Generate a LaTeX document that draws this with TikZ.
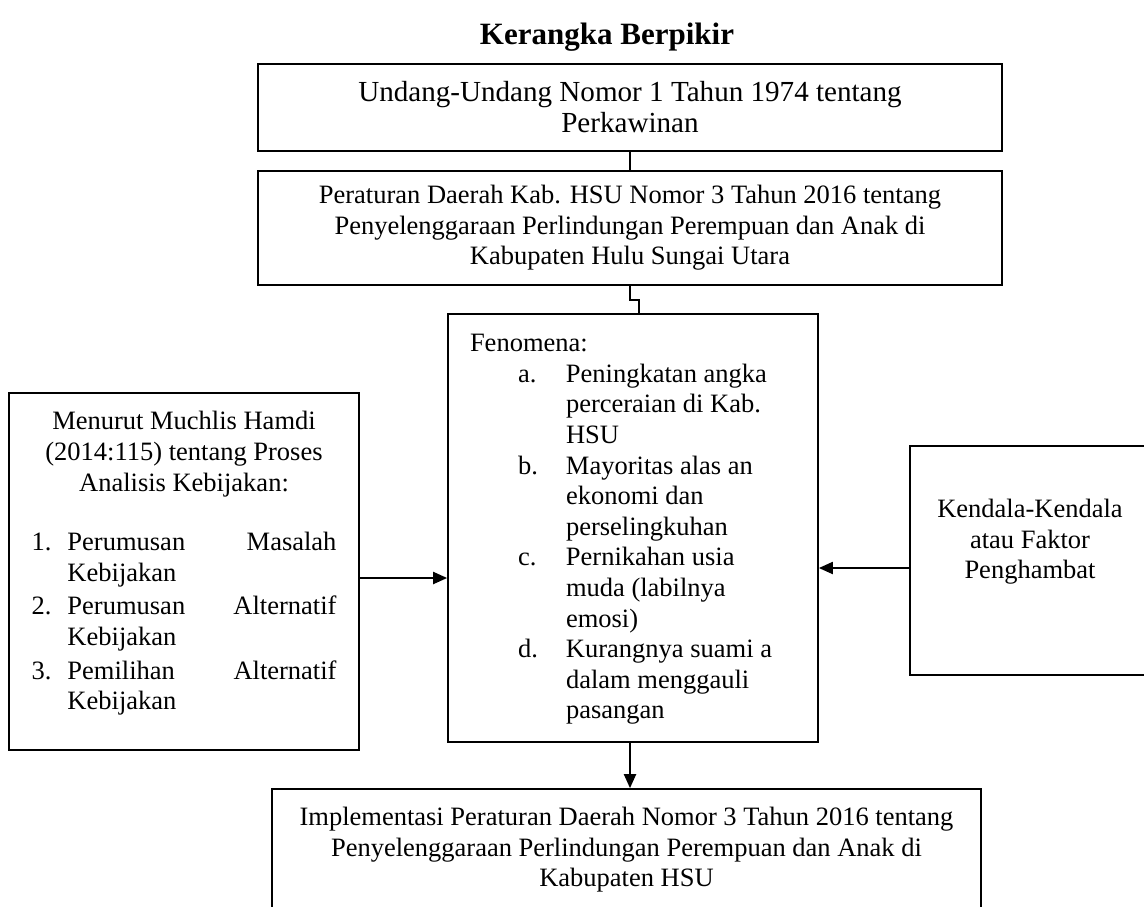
\documentclass[tikz,border=0pt]{standalone}
\usepackage{fontspec}
\setmainfont{Liberation Serif}
\usetikzlibrary{arrows.meta,calc}
\tikzset{
  box/.style={draw, line width=1.7pt, inner sep=0pt, align=center},
  arr/.style={line width=2pt, -{Triangle[length=14pt,width=12pt]}},
  conn/.style={line width=1.7pt},
  txt/.style={font=\fontsize{26.5}{30.6}\selectfont},
}
\begin{document}
\begin{tikzpicture}[x=1pt,y=-1pt]
\useasboundingbox (0,0) rectangle (1144,906);
\fill[white] (0,0) rectangle (1144,906);
\clip (0,0) rectangle (1144,906);

\node[font=\fontsize{31}{36}\selectfont\bfseries] (title) at (607,37) {Kerangka Berpikir};

\node[box, font=\fontsize{29.1}{31}\selectfont, minimum width=744pt, minimum height=87pt] (B1) at (630,107.5)
  {Undang-Undang Nomor 1 Tahun 1974 tentang\\Perkawinan};

\node[box, txt, minimum width=744pt, minimum height=114pt] (B2) at (630,228)
  {Peraturan Daerah Kab. HSU Nomor 3 Tahun 2016 tentang\\Penyelenggaraan Perlindungan Perempuan dan Anak di\\Kabupaten Hulu Sungai Utara};

\node[box, txt, minimum width=370pt, minimum height=428pt] (Fen) at (633,528)
  {\parbox{326pt}{\vspace*{3pt}\raggedright Fenomena:\\
   \hspace*{48pt}\makebox[48pt][l]{a.}Peningkatan angka\\
   \hspace*{96pt}perceraian di Kab.\\
   \hspace*{96pt}HSU\\
   \hspace*{48pt}\makebox[48pt][l]{b.}Mayoritas alas an\\
   \hspace*{96pt}ekonomi dan\\
   \hspace*{96pt}perselingkuhan\\
   \hspace*{48pt}\makebox[48pt][l]{c.}Pernikahan usia\\
   \hspace*{96pt}muda (labilnya\\
   \hspace*{96pt}emosi)\\
   \hspace*{48pt}\makebox[48pt][l]{d.}Kurangnya suami a\\
   \hspace*{96pt}dalam menggauli\\
   \hspace*{96pt}pasangan}};

\node[box, txt, minimum width=350pt, minimum height=357pt] (L) at (184,571.5)
  {\parbox{305pt}{\centering Menurut Muchlis Hamdi\\(2014:115) tentang Proses\\Analisis Kebijakan:\par
   \vspace{29pt}\raggedright
   \makebox[36pt][l]{1.}\makebox[269pt][l]{Perumusan\hfill Masalah}\\
   \hspace*{36pt}Kebijakan\\[3pt]
   \makebox[36pt][l]{2.}\makebox[269pt][l]{Perumusan\hfill Alternatif}\\
   \hspace*{36pt}Kebijakan\\[3pt]
   \makebox[36pt][l]{3.}\makebox[269pt][l]{Pemilihan\hfill Alternatif}\\
   \hspace*{36pt}Kebijakan\par\vspace*{16pt}}};

\node[box, txt, minimum width=240pt, minimum height=229pt] (R) at (1030,560.5)
  {\parbox{220pt}{\centering Kendala-Kendala\\atau Faktor\\Penghambat\par\vspace*{37pt}}};

\node[box, txt, minimum width=709pt, minimum height=122pt] (Bot) at (626.5,850)
  {Implementasi Peraturan Daerah Nomor 3 Tahun 2016 tentang\\Penyelenggaraan Perlindungan Perempuan dan Anak di\\Kabupaten HSU};

% connectors
\draw[conn] (B1.south) -- (B2.north);
\coordinate (k1) at (639,300);
\draw[conn] (B2.south) |- (k1) -- (k1 |- Fen.north);
\draw[arr] ([yshift=-6.5pt]L.east) -- ([yshift=-6.5pt]L.east -| Fen.west);
\draw[arr] ([yshift=-7.5pt]R.west) -- ([yshift=-7.5pt]R.west -| Fen.east);
\draw[arr] ([xshift=-3pt]Fen.south) -- ([xshift=-3pt]Fen.south |- Bot.north);
\end{tikzpicture}
\end{document}
